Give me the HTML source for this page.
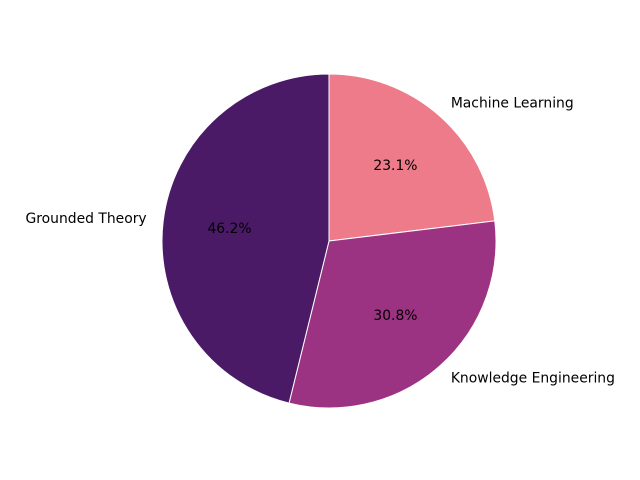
<!DOCTYPE html>
<html><head><meta charset="utf-8"><style>
body{margin:0;background:#fff;}
svg{display:block;font-family:"DejaVu Sans","Liberation Sans",sans-serif;}
</style></head><body>
<svg id="chart" width="640" height="480" viewBox="0 0 640 480"></svg>
<script>
const categories=["Machine Learning","Knowledge Engineering","Grounded Theory"];
const values=[3,4,6];
const colors=["#ee7b8a","#9c3282","#4a1a67"];
const cx=329,cy=241,r=167;
const svg=document.getElementById('chart');
const NS="http://www.w3.org/2000/svg";
const total=values.reduce((a,b)=>a+b,0);
let start=90;
function pt(deg,rad){const a=deg*Math.PI/180;return [cx+rad*Math.cos(a),cy-rad*Math.sin(a)];}
values.forEach((v,i)=>{
  const sweep=v/total*360;
  const end=start-sweep;
  const [x1,y1]=pt(start,r),[x2,y2]=pt(end,r);
  const p=document.createElementNS(NS,'path');
  p.setAttribute('d',`M${cx},${cy} L${x1},${y1} A${r},${r} 0 ${sweep>180?1:0} 1 ${x2},${y2} Z`);
  p.setAttribute('fill',colors[i]);
  p.setAttribute('stroke','#fff');
  p.setAttribute('stroke-width','1');
  
  
  svg.appendChild(p);
  const mid=start-sweep/2;
  const [lx,ly]=pt(mid,r*1.1);
  const t=document.createElementNS(NS,'text');
  t.setAttribute('x',lx);t.setAttribute('y',ly);
  t.setAttribute('font-size','13.9');
  t.setAttribute('dominant-baseline','central');
  t.setAttribute('text-anchor',Math.cos(mid*Math.PI/180)>=0?'start':'end');
  t.textContent=categories[i];
  
  
  svg.appendChild(t);
  const [px,py]=pt(mid,r*0.6);
  const q=document.createElementNS(NS,'text');
  q.setAttribute('x',px);q.setAttribute('y',py);
  q.setAttribute('font-size','13.9');
  q.setAttribute('dominant-baseline','central');
  q.setAttribute('text-anchor','middle');
  q.textContent=(v/total*100).toFixed(1)+'%';
  
  
  svg.appendChild(q);
  start=end;
});
</script>
</body></html>
